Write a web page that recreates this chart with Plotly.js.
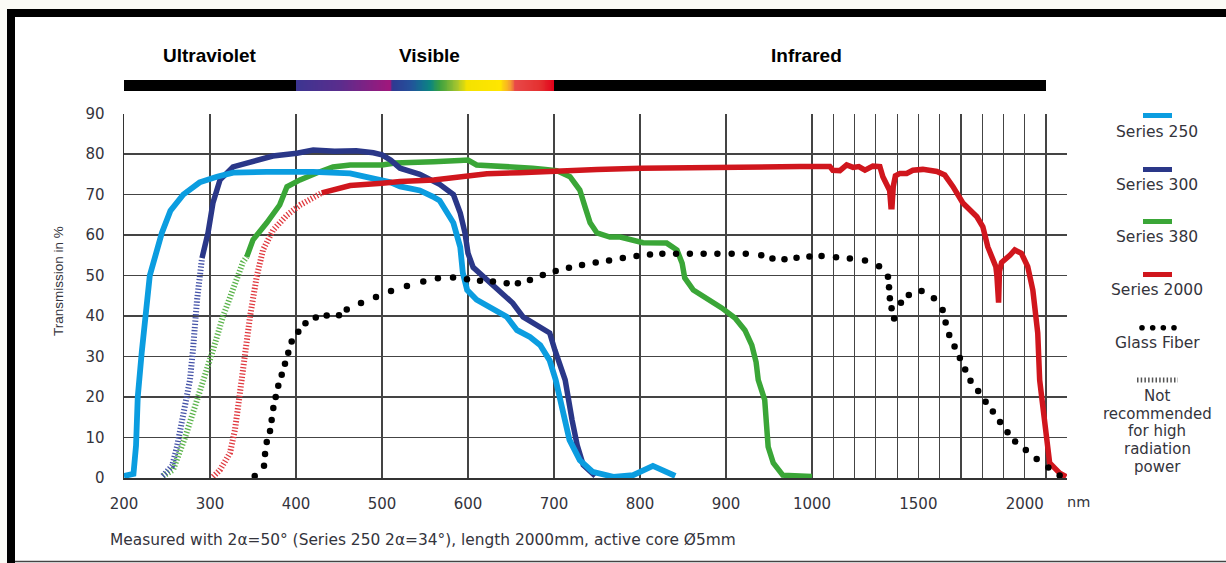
<!DOCTYPE html>
<html><head><meta charset="utf-8">
<script src="https://cdn.plot.ly/plotly-3.0.1.min.js"></script>
<style>html,body{margin:0;padding:0;background:#fff}</style>
</head><body><div id="chart" style="width:1226px;height:563px"></div>
<script>
// ---------- data (wavelength in nm, transmission in %) ----------
const xTickNm = [200,300,400,500,600,700,800,900,1000,1100,1200,1300,1400,1500,1600,1700,1800,1900,2000,2100];
const xTickLabels = ['200','300','400','500','600','700','800','900','1000','','','','','1500','','','','','2000',''];
const yTicks = [0,10,20,30,40,50,60,70,80,90];

const s250Nm = [200,211,214,216,220.6,230,244,254,269,288,308,327,366,420,463,490,510,521,544,559,567,583,591,594,599,610,629,645,657,672,684,695,702,710,718,730,745,769,792,815,841];
const s250T  = [0.5,1,8,20,31,50,60.5,66,70,73,74.4,75.4,75.6,75.6,75.2,74,73,72,71,69.5,68.5,63,57,50.6,46.4,44,41.5,39.8,36.5,34.8,32.8,29,24.2,16,9.4,4.4,1.5,0.3,0.7,3,0.5];

const s300HatchNm = [245,256,261.6,267.4,272,276.7,280.2,284.9,290.7];
const s300HatchT  = [0.5,3,7.7,13.6,19.3,24.2,31.6,43.9,54.3];
const s300Nm = [290.7,297.7,303.5,311.6,326.7,346.5,373,401,420,445,470,490,500,510,521,544,559,567,583,591,596.5,600,606,622,637,652,664,680,695,701,713,721,727,734,748];
const s300T  = [54.3,60.5,68,73.6,76.8,78,79.5,80.2,81,80.7,80.8,80.3,79.8,78.5,76.5,75,73.5,72.5,70,65.4,60.5,55.5,52,48.9,45.7,43.2,39.8,37.8,35.8,31.6,24.2,14.3,8.1,3.2,0.5];

const s380HatchNm = [245.3,257,271,280.2,287.2,293,303.5,315,326.7,338.4,342.7];
const s380HatchT  = [0.5,2,10,16,19.8,24.2,31.6,39.8,46.4,53.3,54.6];
const s380Nm = [342.7,350,366,381,389.5,404.6,424,443,463,500,515,530,560,590,600,610,635,660,675,690,703,718.6,730,736,742,750,765,777,792,803.5,831,843,849,852,862,881,895,910.5,922,930,935,937.5,945,947,949,955,966,1000];
const s380T  = [54.6,58.8,63,67.4,71.9,73.6,75.3,76.8,77.3,77.3,77.8,78,78.1,78.4,78.5,77.3,77,77,76.5,76.2,75.9,74.4,71.1,67,63,60.5,59.5,59.5,58.8,58.1,58,56.3,53,49.4,46.4,44,42,39.5,36.5,32.8,28.6,24.2,19.3,13.5,7.7,3.7,0.7,0.4];

const s2000HatchNm = [303.5,311.6,323.3,329,332.6,336.9,340.7,346.5,354.3,361.6,373.3,389.5,404.7,419.8,429.9];
const s2000HatchT  = [0.3,2,6.2,11.9,17.5,24.2,31.6,39.8,49.7,56.3,61.2,64.9,67.4,69.4,70.4];
const s2000Nm = [429.9,463,500,521,560,599,622,660,702,750,801,902,986,1050,1084,1098,1131,1163,1193,1220,1249,1286,1319,1333,1350,1365,1371,1376,1382,1392,1413,1445,1474,1521,1587,1624,1662,1709,1775,1803,1826,1850,1864,1869,1872,1877,1881,1891,1930,1953,1984,2014,2038,2061,2070,2101,2117,2164,2195];
const s2000T  = [70.4,72.2,72.8,73.2,73.6,74.4,75.1,75.4,75.9,76.2,76.5,76.9,76.9,76.9,76.9,76,75.9,77.3,76.7,76.9,76,77,76.9,74.4,72.5,71,67,67,72,74.6,75.2,75.2,76,76.2,75.7,74.8,72,67.9,64.5,62,57.1,53.8,52.2,50,43.3,43.3,51,53.2,55,56.3,55.5,52.2,46.4,35.8,24.2,9.4,3.7,1.2,0.3];

const glassNm = [352,362.8,364,366,369.8,371.7,373.6,376.4,379.4,383.4,387.2,391,395,402.7,411,423,435.7,450,459,475.6,493,510.5,529,548,565,582.6,598.8,614,629,645,658,672,687,702,717.4,732.6,748.5,764,780,796,811.6,826,842,858,874,890,906.6,923,941,954,968,982,997,1045,1113,1178,1249,1315,1357,1362,1366,1374,1386,1418,1455,1515,1573,1614,1628,1645,1670,1695,1720,1745,1781,1816,1850,1884,1919,1955,2005,2056,2111,2164];
const glassT  = [0.5,3,5.9,8.9,11.6,14.3,17.3,20,22.8,25.5,28.2,30.9,33.7,36.1,38.2,39.6,40.1,40.2,41.6,43.2,44.7,46.2,47.4,48.5,49.3,49.5,49.1,48.7,48.5,48.1,48.1,48.9,50.1,51.1,51.9,52.6,53.2,53.7,54.3,54.8,55.2,55.4,55.4,55.4,55.4,55.4,55.4,55.4,55,54.2,54,54.4,54.7,54.8,54.5,54.2,53.7,52.3,49.7,47.1,44.4,41.9,39.4,43.3,45.2,46.2,44.4,41.5,38.4,35.3,32.5,29.6,26.8,24,21.5,18.8,16.4,13.8,11.3,9,6.9,4.7,2.6,0.6];

// spectrum band (visible range colours)
const bandNm = [200, 700, 2100];
const spectrumNm = [400,451,509,512.8,532.6,544,556,567,587,599,637,649,655,684,700];
const spectrumColors = ['#3c3591','#5a2d8d','#a0177c','#2e3a92','#24509a','#156a92','#0c8580','#3aa040','#a5c52e','#f4e200','#ffe600','#f5a030','#e84848','#e43030','#e2001a'];
const regionNames = ['Ultraviolet','Visible','Infrared'];

const seriesNames = ['Series 250','Series 300','Series 380','Series 2000','Glass Fiber'];
const seriesColors = ['#0b9de0','#2a3788','#3aa637','#d0161d','#000000'];
const hatchColors = ['#4654a8','#5cb44c','#e03a40'];
const noteText = 'Measured with 2α=50° (Series 250 2α=34°), length 2000mm, active core Ø5mm';
const hatchLegendLines = ['Not','recommended','for high','radiation','power'];

// ---------- axis mapping: linear to 1000 nm, compressed beyond ----------
const IR_SCALE = 0.2474;
function u(nm){ return nm <= 1000 ? nm : 1000 + (nm - 1000) * IR_SCALE; }
const U = a => a.map(u);

// ---------- geometry helpers (pixel -> paper) ----------
const L = 124, R = 159, T = 80, B = 85, W = 1226, H = 563;
const PW = W - L - R, PH = H - T - B;
const xp = px => (px - L) / PW;
const yp = py => (H - B - py) / PH;

const FONT = 'DejaVu Sans';
const TXT = '#34343c';

// ---------- spectrum heatmap ----------
const uMin = u(bandNm[0]), uMax = u(bandNm[2]);
const edges = [uMin, 400];
for (let v = 401; v <= 700; v++) edges.push(v);
edges.push(uMax);
const mids = [];
for (let i = 0; i < edges.length - 1; i++) mids.push((edges[i] + edges[i+1]) / 2);
const fr = v => (v - uMin) / (uMax - uMin);
const cs = [[0,'#000000'], [fr(400) - 1e-6, '#000000']];
spectrumNm.forEach((n, i) => cs.push([fr(n), spectrumColors[i]]));
cs.push([fr(700) + 1e-6, '#000000'], [1, '#000000']);

const traces = [];
traces.push({type:'heatmap', x: edges, y:[0,1], z:[mids], xaxis:'x2', yaxis:'y2',
  colorscale: cs, zmin: uMin, zmax: uMax, showscale:false, hoverinfo:'skip'});

function lineTrace(nm, t, color, width, dash){
  return {type:'scatter', mode:'lines', x:U(nm), y:t, hoverinfo:'skip', showlegend:false,
    line:{color, width, dash: dash || 'solid'}};
}
const HD = '1.3px,1.9px';
traces.push(lineTrace(s380HatchNm, s380HatchT, hatchColors[1], 6, HD));
traces.push(lineTrace(s380Nm, s380T, seriesColors[2], 5.5));
traces.push(lineTrace(s300HatchNm, s300HatchT, hatchColors[0], 6, HD));
traces.push(lineTrace(s300Nm, s300T, seriesColors[1], 5.5));
traces.push(lineTrace(s250Nm, s250T, seriesColors[0], 5.8));
traces.push(lineTrace(s2000HatchNm, s2000HatchT, hatchColors[2], 6, HD));
traces.push(lineTrace(s2000Nm, s2000T, seriesColors[3], 5.5));
traces.push({type:'scatter', mode:'markers', x:U(glassNm), y:glassT, hoverinfo:'skip', showlegend:false,
  marker:{color:seriesColors[4], size:6.5}});

// ---------- annotations ----------
const ann = [];
const regionPx = [210, 429, 806];
regionNames.forEach((n, i) => ann.push({text:'<b>'+n+'</b>', xref:'paper', yref:'paper',
  x: xp(regionPx[i]), y: yp(55), showarrow:false, xanchor:'center', yanchor:'middle',
  font:{family:'Liberation Sans', size:19, color:'#000'}}));
ann.push({text:'Transmission in %', xref:'paper', yref:'paper', x:xp(58), y:yp(281), textangle:-90,
  showarrow:false, xanchor:'center', yanchor:'middle', font:{family:'Liberation Sans', size:13.5, color:TXT}});
ann.push({text:'nm', xref:'paper', yref:'paper', x:xp(1078), y:yp(502), showarrow:false,
  xanchor:'center', yanchor:'middle', font:{family:FONT, size:14.5, color:TXT}});
ann.push({text:noteText, xref:'paper', yref:'paper', x:xp(108), y:yp(540), showarrow:false,
  xanchor:'left', yanchor:'middle', font:{family:FONT, size:15.4, color:TXT}});

const legX = 1157;
const legBarY = [115.5, 169.5, 221.5, 274.5];
const legTextY = [132, 185, 236.7, 290, 343];
seriesNames.forEach((n, i) => ann.push({text:n, xref:'paper', yref:'paper', x:xp(legX), y:yp(legTextY[i]),
  showarrow:false, xanchor:'center', yanchor:'middle', font:{family:FONT, size:15.5, color:TXT}}));
const hatchTextY = [396, 413.5, 431, 449, 466.5];
hatchLegendLines.forEach((n, i) => ann.push({text:n, xref:'paper', yref:'paper', x:xp(legX), y:yp(hatchTextY[i]),
  showarrow:false, xanchor:'center', yanchor:'middle', font:{family:FONT, size:15, color:TXT}}));

// ---------- shapes (frame + legend glyphs) ----------
const shapes = [];
shapes.push({type:'rect', xref:'paper', yref:'paper', layer:'below', x0:xp(7), x1:xp(W), y0:yp(9), y1:yp(H),
  fillcolor:'#ffffff', line:{width:0}});
shapes.push({type:'rect', xref:'paper', yref:'paper', x0:xp(7), x1:xp(W), y0:yp(9), y1:yp(17),
  fillcolor:'#000', line:{width:0}});
shapes.push({type:'rect', xref:'paper', yref:'paper', x0:xp(7), x1:xp(15), y0:yp(9), y1:yp(H),
  fillcolor:'#000', line:{width:0}});
shapes.push({type:'line', xref:'paper', yref:'paper', x0:xp(15), x1:xp(W), y0:yp(561.5), y1:yp(561.5),
  line:{color:'#444', width:1.5}});
legBarY.forEach((y, i) => shapes.push({type:'line', xref:'paper', yref:'paper', x0:xp(1143), x1:xp(1172),
  y0:yp(y), y1:yp(y), line:{color:seriesColors[i], width:5}}));
[1142, 1152.7, 1163.3, 1174].forEach(cx => shapes.push({type:'circle', xref:'paper', yref:'paper',
  x0:xp(cx-2.8), x1:xp(cx+2.8), y0:yp(327.7+2.8), y1:yp(327.7-2.8), fillcolor:'#000', line:{width:0}}));
shapes.push({type:'line', xref:'paper', yref:'paper', x0:xp(1137), x1:xp(1178), y0:yp(380), y1:yp(380),
  line:{color:'#555', width:5, dash:'1.5px,2.2px'}});

const uRight = u(1000) + (1067 - 812) / 0.86;
const layout = {
  width: W, height: H, margin:{l:L, r:R, t:T, b:B}, paper_bgcolor:'#fbfbf6', plot_bgcolor:'rgba(0,0,0,0)',
  showlegend:false,
  xaxis:{range:[200, uRight], tickmode:'array', tickvals:U(xTickNm), ticktext:xTickLabels,
    showgrid:true, gridcolor:'#444', gridwidth:1.2, showline:true, linecolor:'#333', linewidth:1.5,
    ticks:'', zeroline:false, tickfont:{family:FONT, size:15, color:TXT}, ticklabelstandoff:11, fixedrange:true},
  yaxis:{domain:[0, yp(113.5)], range:[0,90], tickmode:'array', tickvals:yTicks,
    showgrid:true, gridcolor:'#444', gridwidth:1.2, showline:true, linecolor:'#333', linewidth:1.5,
    ticks:'', zeroline:false, tickfont:{family:FONT, size:15, color:TXT}, ticklabelstandoff:15, fixedrange:true},
  xaxis2:{domain:[0,1], range:[200, uRight], visible:false, anchor:'y2', fixedrange:true},
  yaxis2:{domain:[yp(91), yp(80)], range:[0,1], visible:false, anchor:'x2', fixedrange:true},
  annotations: ann, shapes: shapes
};
Plotly.newPlot('chart', traces, layout, {displayModeBar:false, staticPlot:true});
</script></body></html>
